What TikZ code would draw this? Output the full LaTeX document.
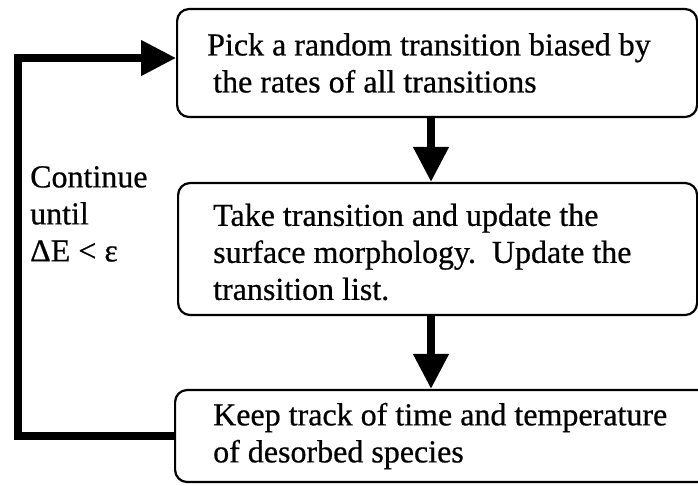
\documentclass[tikz,border=0pt]{standalone}
\usepackage{fontspec}
\setmainfont{Liberation Serif}[FakeBold=0.6]
\usetikzlibrary{arrows.meta}
\begin{document}
\begin{tikzpicture}[x=1pt,y=-1pt,
  stepbox/.style={draw, line width=2.2pt, rounded corners=12pt, anchor=west,
    inner sep=0pt},
  steptext/.style={anchor=west, align=left, inner sep=0pt,
    font=\fontsize{32}{37}\selectfont},
  flow/.style={line width=7.5pt, line join=miter, -{Triangle[length=35pt,width=34pt]}},
  looptext/.style={anchor=north west, align=left, inner sep=0pt,
    font=\fontsize{32}{37}\selectfont}]
  \useasboundingbox (0,0) rectangle (698,485);
  \clip (0,0) rectangle (698,485);

  % the three steps of the loop
  \node[stepbox, minimum width=520pt, minimum height=108pt] (pick) at (176,63) {};
  \node[stepbox, minimum width=519pt, minimum height=132pt] (take) at (177,249) {};
  \node[stepbox, minimum width=548pt, minimum height=92pt] (keep) at (174,436) {};

  \node[steptext] (pickt) at ([xshift=31pt]pick.west)
    {Pick a random transition biased by\\\hspace*{6pt}the rates of all transitions};
  \node[steptext] (taket) at ([xshift=36pt,yshift=-3pt]take.west)
    {Take transition and update the\\surface morphology.\ \ Update the\\transition list.};
  \node[steptext] (keept) at ([xshift=39pt]keep.west)
    {Keep track of time and temperature\\of desorbed species};

  % stopping condition beside the return path
  \node[looptext] (cond) at (30,166) {Continue\\until\\ΔE < ε};

  % forward arrows
  \coordinate (ax) at (431,0);
  \draw[flow] (pick.south -| ax) -- (take.north -| ax);
  \draw[flow] (take.south -| ax) -- (keep.north -| ax);

  % return path back to the first step
  \coordinate (lb) at (18,436);
  \coordinate (lt) at (18,58);
  \draw[flow] (keep.west |- lb) -- (lb) -- (lt) -- (pick.west |- lt);
\end{tikzpicture}
\end{document}
